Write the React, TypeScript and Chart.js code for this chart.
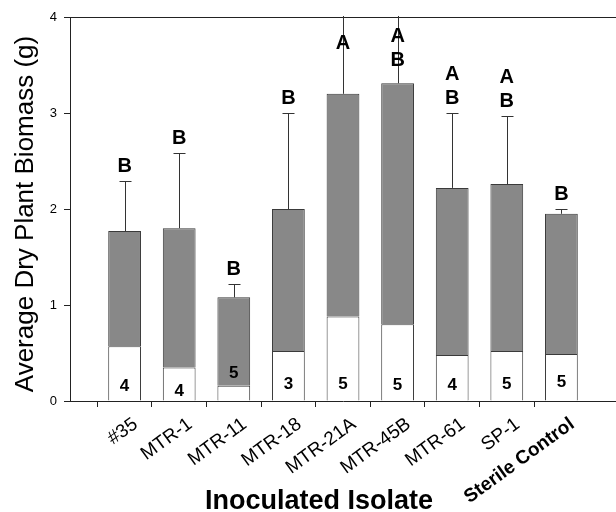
import { useEffect, useRef } from 'react';
import { Chart, registerables } from 'chart.js';

Chart.register(...registerables);

const FONT = "'Liberation Sans', Arial, Helvetica, sans-serif";

// Inoculated isolates (x categories)
const categories = ['#35', 'MTR-1', 'MTR-11', 'MTR-18', 'MTR-21A', 'MTR-45B', 'MTR-61', 'SP-1', 'Sterile Control'];
// lower (white) segment of each bar, g
const lowerValues = [0.57, 0.35, 0.16, 0.52, 0.88, 0.8, 0.48, 0.52, 0.49];
// total bar height (white + grey), g
const totalValues = [1.77, 1.8, 1.08, 2.0, 3.2, 3.31, 2.22, 2.26, 1.95];
// top of the error bar, g
const errorTops = [2.29, 2.58, 1.22, 3.0, 4.6, 4.7, 3.0, 2.97, 2.0];
// significance letters (stacked top to bottom)
const letterGroups = ['B', 'B', 'B', 'B', 'A', 'AB', 'AB', 'AB', 'B'];
// value the letters sit above
const letterAnchors = [2.29, 2.58, 1.22, 3.0, 3.57, 3.4, 3.0, 2.97, 2.0];
// sample sizes and the value where they are written
const sampleSizes = [4, 4, 5, 3, 5, 5, 4, 5, 5];
const sampleLabelAt = [0.17, 0.12, 0.3, 0.19, 0.19, 0.18, 0.18, 0.19, 0.21];
// y axis
const yMin = 0;
const yMax = 4;
const yStep = 1;

export default function App() {
  const ref = useRef<HTMLCanvasElement>(null);

  useEffect(() => {
    if (!ref.current) return;
    const labels = ['', ...categories, ''];
    const lower = [null, ...lowerValues, null];
    const upper = [null, ...totalValues.map((t, i) => +(t - lowerValues[i]).toFixed(3)), null];

    const overlay = {
      id: 'overlay',
      afterDatasetsDraw(chart: any) {
        const { ctx, chartArea, scales } = chart;
        const x = scales.x;
        const y = scales.y;
        // error bars
        ctx.save();
        ctx.beginPath();
        ctx.rect(chartArea.left, chartArea.top - 1, chartArea.right - chartArea.left, chartArea.bottom - chartArea.top + 1);
        ctx.clip();
        ctx.strokeStyle = '#333333';
        ctx.lineWidth = 1;
        categories.forEach((_, i) => {
          const px = Math.round(x.getPixelForValue(i + 1)) + 0.5;
          const yb = y.getPixelForValue(totalValues[i]);
          const ye = Math.round(y.getPixelForValue(errorTops[i])) + 0.5;
          ctx.beginPath();
          ctx.moveTo(px, yb);
          ctx.lineTo(px, ye);
          ctx.moveTo(px - 6, ye);
          ctx.lineTo(px + 6, ye);
          ctx.stroke();
        });
        ctx.restore();

        ctx.save();
        ctx.fillStyle = '#000000';
        ctx.textAlign = 'center';
        ctx.textBaseline = 'alphabetic';
        // letters
        const ls = 20;
        ctx.font = `bold ${ls}px ${FONT}`;
        letterGroups.forEach((g, i) => {
          const px = x.getPixelForValue(i + 1);
          const base = y.getPixelForValue(letterAnchors[i]) - 16;
          g.split('').reverse().forEach((ch, k) => {
            ctx.fillText(ch, px, base - k * 24 + 0.358 * ls);
          });
        });
        // sample sizes
        const ns = 17;
        ctx.font = `bold ${ns}px ${FONT}`;
        sampleSizes.forEach((n, i) => {
          const px = x.getPixelForValue(i + 1);
          const cy = y.getPixelForValue(sampleLabelAt[i]);
          ctx.fillText(String(n), px, cy + 0.358 * ns);
        });
        // axis titles
        ctx.font = `bold 27px ${FONT}`;
        ctx.fillText('Inoculated Isolate', 319, 509);
        ctx.translate(32.5, 214);
        ctx.rotate(-Math.PI / 2);
        ctx.font = `26px ${FONT}`;
        ctx.fillText('Average Dry Plant Biomass (g)', 0, 0);
        ctx.restore();
      },
    };

    const chart = new Chart(ref.current, {
      type: 'bar',
      data: {
        labels,
        datasets: [
          { data: lower, backgroundColor: '#ffffff', borderColor: '#3a3a3a', borderWidth: 1 },
          { data: upper, backgroundColor: '#888888', borderColor: '#3a3a3a', borderWidth: 1 },
        ],
      },
      options: {
        animation: false,
        responsive: false,
        layout: { padding: { top: 17, right: 0, left: 0, bottom: 0 } },
        plugins: { legend: { display: false }, tooltip: { enabled: false }, title: { display: false } },
        datasets: { bar: { categoryPercentage: 0.6, barPercentage: 1 } },
        scales: {
          x: {
            stacked: true,
            offset: false,
            grid: {
              display: true,
              drawOnChartArea: false,
              color: 'transparent',
              tickColor: (c: any) => (c.index === labels.length - 1 ? 'transparent' : '#222222'),
              tickLength: 6,
            },
            border: { color: '#222222', width: 1 },
            ticks: {
              autoSkip: false,
              maxRotation: 36,
              minRotation: 36,
              labelOffset: 11,
              padding: 6,
              color: '#000000',
              font: (c: any) => ({ family: FONT, size: 19, weight: c.index === 9 ? 'bold' : 'normal' }),
            },
            afterFit: (s: any) => {
              s.height = 111;
              s.paddingLeft = 0;
              s.paddingRight = 0;
            },
          },
          y: {
            stacked: true,
            min: yMin,
            max: yMax,
            ticks: { stepSize: yStep, color: '#000000', padding: 7, font: { family: FONT, size: 13 } },
            grid: {
              color: (c: any) => (c.tick && c.tick.value === yMax ? '#222222' : 'transparent'),
              tickColor: '#222222',
              tickLength: 6,
            },
            border: { color: '#222222', width: 1 },
            afterFit: (s: any) => {
              s.width = 70;
            },
          },
        },
      },
      plugins: [overlay],
    });
    return () => chart.destroy();
  }, []);

  return (
    <div style={{ position: 'absolute', left: 0, top: 0, width: 616, height: 512, background: '#fff' }}>
      <canvas ref={ref} width={616} height={512} style={{ display: 'block' }} />
    </div>
  );
}
